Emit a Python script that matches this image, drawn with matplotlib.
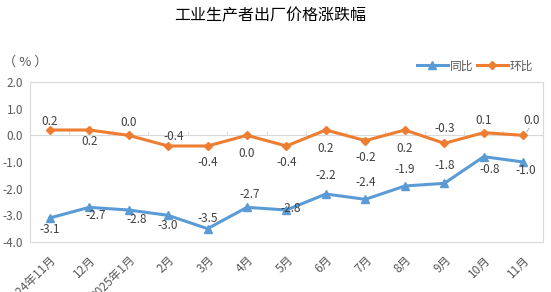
import numpy as np
import matplotlib.pyplot as plt

plt.rcParams['font.family'] = ['Noto Sans CJK SC', 'DejaVu Sans']

months = ['2024年11月', '12月', '2025年1月', '2月', '3月', '4月', '5月',
          '6月', '7月', '8月', '9月', '10月', '11月']
yoy = [-3.1, -2.7, -2.8, -3.0, -3.5, -2.7, -2.8, -2.2, -2.4, -1.9, -1.8, -0.8, -1.0]
mom = [0.2, 0.2, 0.0, -0.4, -0.4, 0.0, -0.4, 0.2, -0.2, 0.2, -0.3, 0.1, 0.0]

# label offsets in points (dx, dy), hand placed like the original
yoy_off = [(0, -8), (5, -6), (6, -7), (0, -7), (0, 7), (2, 9), (3, 1), (0, 13),
           (0, 12), (0, 12), (0, 13), (4, -9), (2, -6)]
mom_off = [(0, 6), (0, -8), (0, 9), (4, 7), (0, -12), (0, -13), (0, -12), (0, -13),
           (0, -12), (0, -13), (0, 11), (0, 9), (6, 11)]

blue = '#5B9BD5'
orange = '#ED7D31'
txt = '#404040'

fig = plt.figure(figsize=(5.51, 2.92), dpi=100)
ax = fig.add_axes([0.0544, 0.1712, 0.931, 0.548])

x = np.arange(len(months))
ax.plot(x, yoy, color=blue, lw=2.2, marker='^', ms=6, label='同比')
ax.plot(x, mom, color=orange, lw=2.2, marker='D', ms=4, label='环比')

for i in range(len(x)):
    ax.annotate('%.1f' % yoy[i], (x[i], yoy[i]), xytext=yoy_off[i],
                textcoords='offset points', ha='center', va='center',
                fontsize=8.5, color=txt)
    ax.annotate('%.1f' % mom[i], (x[i], mom[i]), xytext=mom_off[i],
                textcoords='offset points', ha='center', va='center',
                fontsize=8.5, color=txt)
# small leader line for the last one
ax.annotate('', (x[-1] + 0.05, mom[-1] + 0.05), xytext=(4, 6),
            textcoords='offset points',
            arrowprops=dict(arrowstyle='-', color='#A6A6A6', lw=0.6))

ax.set_xlim(-0.5, len(x) - 0.5)
ax.set_ylim(-4, 2)
ax.set_yticks(np.arange(-4, 2.1, 1.0))
ax.set_yticklabels(['%.1f' % v for v in np.arange(-4, 2.1, 1.0)])
ax.set_xticks(x)
ax.set_xticklabels(months, rotation=45, ha='right', rotation_mode='anchor')
ax.tick_params(axis='x', length=0, pad=8, labelsize=8.5, labelcolor='#595959')
ax.tick_params(axis='y', length=0, pad=5, labelsize=8.5, labelcolor='#595959')

for s in ax.spines.values():
    s.set_color('#D9D9D9')
    s.set_linewidth(0.8)
ax.axhline(0, color='#D9D9D9', lw=0.8, zorder=0)
ax.vlines(np.arange(0.5, len(x) - 1, 1.0), 0, 0.15, color='#D9D9D9', lw=0.8, zorder=0)

ax.legend(loc='lower right', bbox_to_anchor=(1.0, 1.0), ncol=2, frameon=False,
          fontsize=8.5, labelcolor='#595959', handlelength=2.6, columnspacing=0.3,
          handletextpad=0.2, borderaxespad=0.4)

fig.text(0.005, 0.775, '（ % ）', fontsize=9.5, color='#595959')
fig.suptitle('工业生产者出厂价格涨跌幅', x=0.49, y=0.975, fontsize=11.5, color='black')

plt.savefig('out.png')
